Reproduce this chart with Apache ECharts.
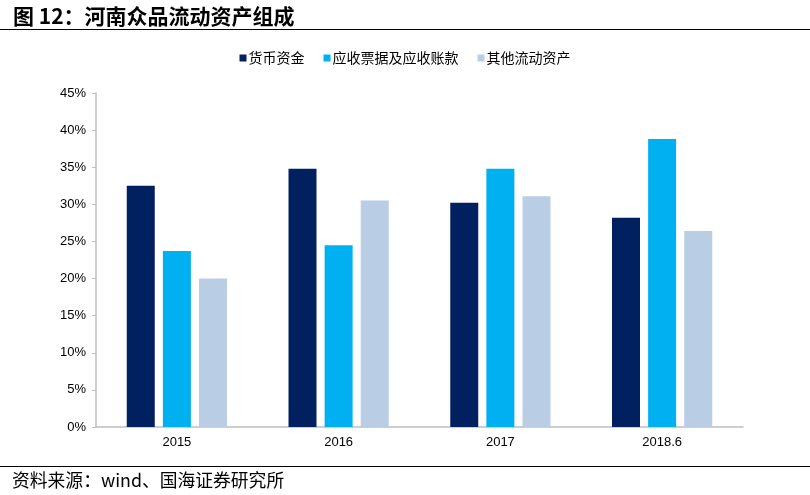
<!DOCTYPE html>
<html><head><meta charset="utf-8">
<script src="https://cdn.jsdelivr.net/npm/echarts@6/dist/echarts.min.js"></script>
<style>html,body{margin:0;padding:0;background:#fff}#c{width:810px;height:495px}</style>
</head><body><div id="c"></div>
<script>
const categories = ['2015', '2016', '2017', '2018.6'];
const cash = [32.5, 34.8, 30.2, 28.2];
const receivables = [23.7, 24.5, 34.8, 38.8];
const otherCurrent = [20.0, 30.5, 31.1, 26.4];
const seriesNames = ['货币资金', '应收票据及应收账款', '其他流动资产'];
const yTicks = [0, 5, 10, 15, 20, 25, 30, 35, 40, 45];

const chart = echarts.init(document.getElementById('c'));
const font = '"Liberation Sans", Arial, "Noto Sans CJK SC", sans-serif';
chart.setOption({
  animation: false,
  textStyle: { fontFamily: font },
  title: {
    text: '图 12：河南众品流动资产组成',
    left: 8, top: 1,
    textStyle: { fontSize: 21, fontWeight: 'bold', color: '#000', fontFamily: '"Noto Sans CJK SC", sans-serif' }
  },
  graphic: [
    { type: 'line', shape: { x1: 0, y1: 29.5, x2: 810, y2: 29.5 }, style: { stroke: '#000', lineWidth: 1 } },
    { type: 'line', shape: { x1: 0, y1: 466.5, x2: 810, y2: 466.5 }, style: { stroke: '#000', lineWidth: 1 } },
    { type: 'text', left: 12, top: 471, style: { text: '资料来源：wind、国海证券研究所', fontSize: 17.8, fill: '#000', fontFamily: '"Noto Sans CJK SC", sans-serif' } }
  ],
  legend: {
    top: 46, left: 'center',
    itemWidth: 7, itemHeight: 7, itemGap: 19,
    icon: 'rect',
    textStyle: { fontSize: 14, color: '#000', padding: [0, 0, 0, -3], fontFamily: '"Noto Sans CJK SC", sans-serif' },
    data: seriesNames
  },
  grid: { left: 96, right: 67, top: 93, bottom: 68 },
  xAxis: {
    type: 'category', data: categories,
    axisLine: { lineStyle: { color: '#bfbfbf', width: 1.5 } },
    axisTick: { show: false },
    axisLabel: { fontSize: 13, color: '#000', margin: 9 }
  },
  yAxis: {
    type: 'value', min: 0, max: 45, interval: 5,
    axisLine: { show: true, lineStyle: { color: '#bfbfbf', width: 1.5 } },
    axisTick: { show: true, length: 4, lineStyle: { color: '#bfbfbf' } },
    splitLine: { show: false },
    axisLabel: { fontSize: 13, color: '#000', margin: 10, formatter: v => yTicks.includes(v) ? v + '%' : '' }
  },
  series: [
    { name: seriesNames[0], type: 'bar', data: cash, barWidth: 28, barGap: '29%', itemStyle: { color: '#002060' } },
    { name: seriesNames[1], type: 'bar', data: receivables, barWidth: 28, barGap: '29%', itemStyle: { color: '#00b0f0' } },
    { name: seriesNames[2], type: 'bar', data: otherCurrent, barWidth: 28, barGap: '29%', itemStyle: { color: '#b9cde5' } }
  ]
});
</script></body></html>
